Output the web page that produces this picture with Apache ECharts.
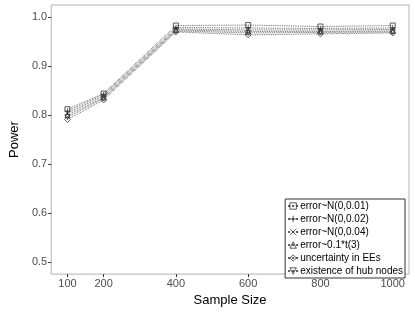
<!DOCTYPE html>
<html><head><meta charset="utf-8">
<script src="https://cdn.jsdelivr.net/npm/echarts@6/dist/echarts.min.js"></script>
<style>html,body{margin:0;padding:0;background:#fff}#c{width:415px;height:312px}</style>
</head><body><div id="c"></div>
<script>
const sampleSizes = [100, 200, 400, 600, 800, 1000];
const xTicks = [100, 200, 400, 600, 800, 1000];
const yTicks = [0.5, 0.6, 0.7, 0.8, 0.9, 1.0];
const seriesNames = ["error~N(0,0.01)", "error~N(0,0.02)", "error~N(0,0.04)", "error~0.1*t(3)", "uncertainty in EEs", "existence of hub nodes"];
const errN001 = [0.812, 0.844, 0.983, 0.984, 0.981, 0.983];
const errN002 = [0.808, 0.842, 0.979, 0.978, 0.977, 0.978];
const errN004 = [0.804, 0.839, 0.976, 0.974, 0.974, 0.975];
const errT3   = [0.800, 0.836, 0.974, 0.971, 0.971, 0.972];
const uncEEs  = [0.791, 0.831, 0.970, 0.964, 0.966, 0.968];
const hubNodes= [0.796, 0.834, 0.972, 0.968, 0.969, 0.970];
const seriesValues = [errN001, errN002, errN004, errT3, uncEEs, hubNodes];
const symbols = [
  'rect',
  'path://M5,0L5,10M0,5L10,5',
  'path://M0,0L10,10M10,0L0,10',
  'triangle',
  'diamond',
  'path://M0,0L10,0L5,10Z'
];
const chart = echarts.init(document.getElementById('c'), null, {renderer:'canvas'});
const series = seriesNames.map((n,i)=>({
  name:n, type:'line',
  data: sampleSizes.map((x,j)=>[x, seriesValues[i][j]]),
  symbol: symbols[i], symbolSize: i===4?6:5,
  showAllSymbol:true,
  lineStyle:{type:'dotted', color:'#555', width:0.9},
  itemStyle:{color:'rgba(255,255,255,0)', borderColor:'#333', borderWidth:0.8},
  emphasis:{disabled:true},
  animation:false
}));
chart.setOption({
  animation:false,
  grid:{left:36, right:6, top:5, bottom:30, show:true, borderColor:'#b3b3b3', borderWidth:1, backgroundColor:'#fff'},
  xAxis:{type:'value', min:55, max:1045,
    axisLine:{show:false}, splitLine:{show:false},
    axisTick:{show:true, customValues:xTicks, length:3, lineStyle:{color:'#333'}},
    axisLabel:{customValues:xTicks, fontSize:11, color:'#4d4d4d', fontFamily:'Liberation Sans', margin:4,
      formatter:v=>String(v)},
    name:'Sample Size', nameLocation:'middle', nameGap:17,
    nameTextStyle:{fontSize:13, color:'#000', fontFamily:'Liberation Sans'}
  },
  yAxis:{type:'value', min:0.475, max:1.025,
    axisLine:{show:false}, splitLine:{show:false},
    axisTick:{show:true, customValues:yTicks, length:3, lineStyle:{color:'#333'}},
    axisLabel:{customValues:yTicks, fontSize:11, color:'#4d4d4d', fontFamily:'Liberation Sans', margin:4,
      formatter:v=>v.toFixed(1)},
    name:'Power', nameLocation:'middle', nameGap:19,
    nameTextStyle:{fontSize:13, color:'#000', fontFamily:'Liberation Sans'}
  },
  legend:{orient:'vertical', right:10, bottom:34, borderColor:'#333', borderWidth:1,
    padding:[2,2,2,2], itemWidth:10, itemHeight:8, itemGap:3, backgroundColor:'#fff',
    itemStyle:{borderWidth:0.8},
    textStyle:{fontSize:10, color:'#000', fontFamily:'Liberation Sans', padding:[0,0,0,-3]},
    data:seriesNames},
  series
});
</script></body></html>
